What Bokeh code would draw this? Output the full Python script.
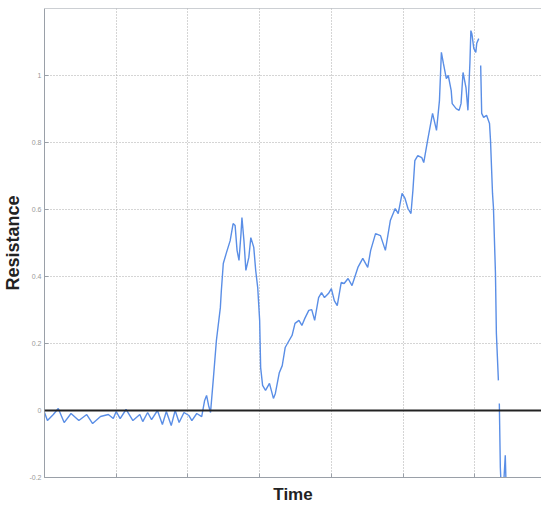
from bokeh.plotting import figure
from bokeh.models import Span, FixedTicker, Range1d
from bokeh.embed import file_html
from bokeh.resources import INLINE

nan = float("nan")

time = [0.0, 0.41, 1.23, 1.92, 2.74, 3.70, 4.79, 5.89, 6.71, 7.81, 8.90, 9.59, 10.0,
        10.55, 11.37, 12.33, 13.29, 13.70, 14.38, 14.93, 15.75, 16.44, 16.99, 17.67,
        18.22, 18.77, 19.45, 20.14, 20.55, 21.23, 21.92, 22.33, 22.60, 22.88, 23.15,
        23.56, 23.97, 24.52, 24.66, 24.93, 25.34, 25.89, 26.30, 26.58, 26.85, 27.12,
        27.40, 27.53, 27.81, 28.08, 28.49, 28.77, 29.18, 29.45, 29.73, 30.0, 30.14,
        30.41, 30.82, 31.37, 31.92, 32.19, 32.74, 33.15, 33.56, 34.11, 34.52, 34.93,
        35.48, 35.89, 36.30, 36.85, 37.26, 37.67, 38.22, 38.63, 39.04, 39.59, 40.0,
        40.41, 40.82, 41.37, 41.78, 42.33, 42.88, 43.70, 44.38, 45.07, 45.48, 46.16,
        46.85, 47.53, 48.22, 48.90, 49.32, 49.86, 50.27, 50.68, 51.10, 51.37, 51.64,
        52.05, 52.60, 52.88, 53.42, 54.11, 54.66, 55.07, 55.34, 55.62, 56.03, 56.30,
        56.71, 56.85, 57.40, 57.81, 58.08, 58.36, 58.77, 59.04, 59.32, 59.45, 59.59,
        59.86, 60.14, 60.27, 60.55, 60.68, 60.82, 60.96, 61.23, 61.64, 62.05, 62.19,
        62.47, 62.60, 62.88, 63.01, 63.29, 63.35, 63.42, 63.56, 63.70, 63.97, 64.25,
        64.38, 64.66]

resistance = [-0.006, -0.030, -0.012, 0.006, -0.036, -0.009, -0.030, -0.012, -0.039,
              -0.018, -0.012, -0.024, -0.003, -0.024, 0.003, -0.030, -0.012, -0.033,
              -0.006, -0.027, 0.0, -0.042, -0.003, -0.045, 0.0, -0.036, -0.006, -0.015,
              -0.030, -0.009, -0.018, 0.030, 0.045, 0.015, -0.006, 0.099, 0.209, 0.307,
              0.358, 0.439, 0.469, 0.507, 0.558, 0.552, 0.478, 0.448, 0.528, 0.576,
              0.507, 0.418, 0.457, 0.516, 0.487, 0.418, 0.367, 0.269, 0.128, 0.075,
              0.060, 0.081, 0.036, 0.051, 0.113, 0.134, 0.188, 0.209, 0.224, 0.260,
              0.269, 0.254, 0.275, 0.299, 0.301, 0.269, 0.337, 0.352, 0.337, 0.349,
              0.364, 0.328, 0.313, 0.382, 0.379, 0.394, 0.373, 0.427, 0.454, 0.427,
              0.478, 0.528, 0.522, 0.478, 0.567, 0.603, 0.588, 0.648, 0.633, 0.603,
              0.588, 0.657, 0.746, 0.761, 0.755, 0.740, 0.806, 0.887, 0.836, 0.925,
              1.069, 1.036, 0.991, 1.000, 0.955, 0.916, 0.901, 0.896, 0.916, 1.009,
              0.964, 0.896, 1.039, 1.134, 1.125, 1.081, 1.069, 1.096, 1.110, nan,
              1.030, 0.887, 0.875, 0.881, 0.857, 0.806, 0.648, 0.606, 0.409, 0.230,
              0.090, nan, 0.021, -0.170, -0.24, -0.24, -0.134, -0.24, -0.25]

x_ticks = [0, 10, 20, 30, 40, 50, 60]
y_ticks = [-0.2, 0.0, 0.2, 0.4, 0.6, 0.8, 1.0]
y_tick_labels = ["-0.2", "0", "0.2", "0.4", "0.6", "0.8", "1"]

p = figure(width=541, height=508, output_backend="svg", toolbar_location=None,
           x_range=Range1d(0, 69.3), y_range=Range1d(-0.2, 1.2),
           min_border_left=35, min_border_right=0, min_border_top=8, min_border_bottom=31)
p.outline_line_color = None
p.background_fill_color = "white"
p.border_fill_color = "white"

p.xaxis.ticker = FixedTicker(ticks=x_ticks)
p.yaxis.ticker = FixedTicker(ticks=y_ticks)
p.yaxis.major_label_overrides = {t: s for t, s in zip(y_ticks, y_tick_labels)}
p.xaxis.major_label_overrides = {t: "" for t in x_ticks}

for ax in (p.xaxis[0], p.yaxis[0]):
    ax.axis_line_color = "#9aa0a8"
    ax.major_tick_line_color = "#9aa0a8"
    ax.major_tick_in = 4
    ax.major_tick_out = 0
    ax.minor_tick_line_color = None
    ax.major_label_text_color = "#999999"
    ax.major_label_text_font = "Liberation Sans"
    ax.axis_label_text_font = "Liberation Sans"
    ax.axis_label_text_font_style = "bold"
    ax.axis_label_text_color = "#222222"

p.xaxis.major_label_text_font_size = "7px"
p.xaxis.major_label_standoff = 0
p.xaxis.axis_label = "Time"
p.xaxis.axis_label_text_font_size = "17px"
p.xaxis.axis_label_standoff = 7

p.yaxis.major_label_text_font_size = "7px"
p.yaxis.major_label_standoff = 3
p.yaxis.axis_label = "Resistance"
p.yaxis.axis_label_text_font_size = "18px"
p.yaxis.axis_label_standoff = 3

for g in (p.xgrid[0], p.ygrid[0]):
    g.grid_line_color = "#aaaaaa"
    g.grid_line_dash = "1 2"
    g.grid_line_width = 1
p.ygrid.ticker = FixedTicker(ticks=y_ticks)

top = Span(location=1.2, dimension="width", line_color="#9aa0a8", line_width=1)
p.add_layout(top)

zero = Span(location=0, dimension="width", line_color="#222222", line_width=2)
p.add_layout(zero)

p.line(time, resistance, line_color="#5a8ee6", line_width=1.4)

open("out.html", "w").write(file_html(p, INLINE))
